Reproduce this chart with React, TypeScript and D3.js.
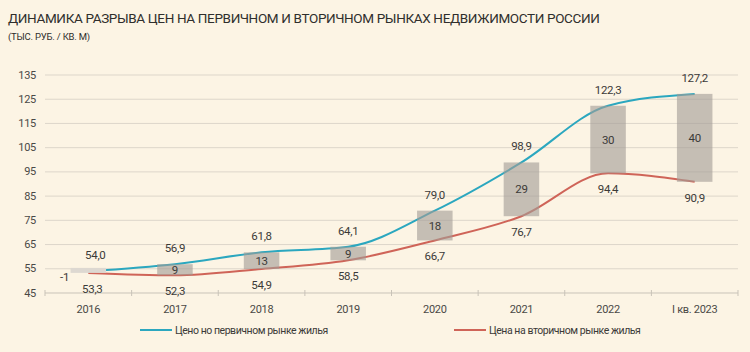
import React, { useEffect, useRef } from "react";
import * as d3 from "d3";

const categories = ["2016", "2017", "2018", "2019", "2020", "2021", "2022", "I кв. 2023"];
const primaryPrices = [54.0, 56.9, 61.8, 64.1, 79.0, 98.9, 122.3, 127.2];
const secondaryPrices = [53.3, 52.3, 54.9, 58.5, 66.7, 76.7, 94.4, 90.9];
const gapLabels = ["-1", "9", "13", "9", "18", "29", "30", "40"];
const yTicks = [45, 55, 65, 75, 85, 95, 105, 115, 125, 135];

const fmt = (v: number) => v.toFixed(1).replace(".", ",");

const App = () => {
  const svgRef = useRef<SVGSVGElement>(null);

  useEffect(() => {
    const svg = d3.select(svgRef.current);
    svg.selectAll("*").remove();

    const width = 750;
    const height = 352;
    const margin = { top: 75, right: 12, bottom: 59, left: 45 };
    const font = "Roboto, 'Noto Sans', sans-serif";
    const textColor = "#3b3a38";

    svg.attr("width", width).attr("height", height);

    svg.append("rect")
      .attr("width", width)
      .attr("height", height)
      .attr("fill", "#fcf4e4");

    const x = d3.scaleBand()
      .domain(categories)
      .range([margin.left, width - margin.right]);

    const y = d3.scaleLinear()
      .domain([45, 135])
      .range([height - margin.bottom, margin.top]);

    // Title
    svg.append("text")
      .attr("x", 8)
      .attr("y", 23)
      .style("font-family", font)
      .style("font-size", "13.5px")
      .style("letter-spacing", "-0.35px")
      .style("fill", "#2f2e2c")
      .text("ДИНАМИКА РАЗРЫВА ЦЕН НА ПЕРВИЧНОМ И ВТОРИЧНОМ РЫНКАХ НЕДВИЖИМОСТИ РОССИИ");

    svg.append("text")
      .attr("x", 8)
      .attr("y", 40)
      .style("font-family", font)
      .style("font-size", "9.5px")
      .style("letter-spacing", "-0.2px")
      .style("fill", "#2f2e2c")
      .text("(ТЫС. РУБ. / КВ. М)");

    // Grid
    svg.selectAll("line.grid")
      .data(yTicks)
      .enter()
      .append("line")
      .attr("x1", margin.left)
      .attr("x2", width - margin.right)
      .attr("y1", d => y(d))
      .attr("y2", d => y(d))
      .attr("stroke", d => (d === 45 ? "#c9c3b8" : "#ddd6ca"))
      .attr("stroke-width", 1);

    svg.selectAll("text.ytick")
      .data(yTicks)
      .enter()
      .append("text")
      .attr("x", 36)
      .attr("y", d => y(d))
      .attr("text-anchor", "end")
      .attr("dominant-baseline", "central")
      .style("font-family", font)
      .style("font-size", "11px")
      .style("letter-spacing", "-0.3px")
      .style("fill", "#4a4946")
      .text(d => d);

    // X tick marks at band edges
    const edges = categories.map(c => x(c) as number).concat([width - margin.right]);
    svg.selectAll("line.xtick")
      .data(edges)
      .enter()
      .append("line")
      .attr("x1", d => d)
      .attr("x2", d => d)
      .attr("y1", y(45) - 3)
      .attr("y2", y(45) + 3)
      .attr("stroke", "#c9c3b8");

    svg.selectAll("text.xlabel")
      .data(categories)
      .enter()
      .append("text")
      .attr("x", d => (x(d) as number) + x.bandwidth() / 2)
      .attr("y", 309)
      .attr("text-anchor", "middle")
      .attr("dominant-baseline", "central")
      .style("font-family", font)
      .style("font-size", "11px")
      .style("letter-spacing", "-0.3px")
      .style("fill", "#4a4946")
      .text(d => d);

    const barW = x.bandwidth() * 0.41;
    const cx = (i: number) => (x(categories[i]) as number) + x.bandwidth() / 2;

    const rows = categories.map((c, i) => ({
      i,
      top: y(primaryPrices[i]),
      bottom: y(secondaryPrices[i]),
    }));

    // Lines (under the translucent gap bars)
    const line = d3.line<number>()
      .x((d, i) => cx(i))
      .y(d => y(d))
      .curve(d3.curveMonotoneX);

    svg.append("path")
      .attr("d", line(secondaryPrices))
      .attr("fill", "none")
      .attr("stroke", "#cf6458")
      .attr("stroke-width", 2);

    svg.append("path")
      .attr("d", line(primaryPrices))
      .attr("fill", "none")
      .attr("stroke", "#2ba7bf")
      .attr("stroke-width", 2);

    // Gap bars
    svg.selectAll("rect.bar")
      .data(rows)
      .enter()
      .append("rect")
      .attr("x", d => cx(d.i) - barW / 2)
      .attr("y", d => Math.min(d.top, d.bottom - 5))
      .attr("width", barW)
      .attr("height", d => Math.max(d.bottom - d.top, 5))
      .attr("fill", d => (d.i === 0 ? "#ddd8d1" : "#a39c96"))
      .attr("fill-opacity", d => (d.i === 0 ? 1 : 0.62));

    // Value labels
    const label = (tx: number, ty: number, t: string) =>
      svg.append("text")
        .attr("x", tx)
        .attr("y", ty)
        .attr("text-anchor", "middle")
        .attr("dominant-baseline", "central")
        .style("font-family", font)
        .style("font-size", "11.5px")
        .style("letter-spacing", "-0.3px")
        .style("fill", textColor)
        .text(t);

    rows.forEach(d => {
      label(cx(d.i) + (d.i === 0 ? 7 : 0), d.top - 16, fmt(primaryPrices[d.i]));
      label(cx(d.i) + (d.i === 0 ? 4 : 0), d.bottom + 16, fmt(secondaryPrices[d.i]));
      if (d.bottom - d.top < 10) {
        label(cx(d.i) - barW / 2 - 6, (d.top + d.bottom) / 2 + 5, gapLabels[d.i]);
      } else {
        label(cx(d.i), (d.top + d.bottom) / 2, gapLabels[d.i]);
      }
    });

    // Legend
    const legend = [
      { x: 140, color: "#2ba7bf", text: "Цено но первичном рынке жилья" },
      { x: 454, color: "#cf6458", text: "Цена на вторичном рынке жилья" },
    ];
    legend.forEach(l => {
      svg.append("line")
        .attr("x1", l.x)
        .attr("x2", l.x + 32)
        .attr("y1", 330)
        .attr("y2", 330)
        .attr("stroke", l.color)
        .attr("stroke-width", 2);
      svg.append("text")
        .attr("x", l.x + 35)
        .attr("y", 330)
        .attr("dominant-baseline", "central")
        .style("font-family", font)
        .style("font-size", "10.5px")
        .style("letter-spacing", "-0.45px")
        .style("fill", textColor)
        .text(l.text);
    });
  }, []);

  return <svg ref={svgRef} style={{ position: "absolute", left: 0, top: 0 }} />;
};

export default App;
